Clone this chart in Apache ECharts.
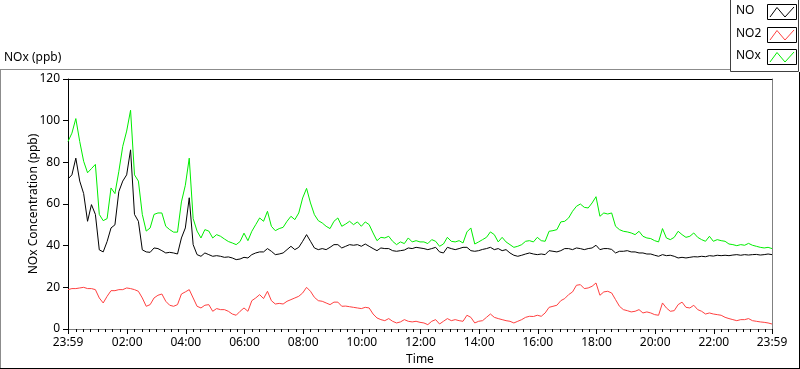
<!DOCTYPE html>
<html>
<head>
<meta charset="utf-8">
<script src="https://cdn.jsdelivr.net/npm/echarts@6/dist/echarts.min.js"></script>
<style>
  html, body { margin: 0; padding: 0; background: #ffffff; }
  #chart { width: 800px; height: 369px; }
</style>
</head>
<body>
<div id="chart"></div>
<script>
// Time axis: minutes since midnight; the record starts at 23:59 of the previous day
var START_MIN = -1;
var STEP_MIN = 8;
var END_MIN = 1439;

var majorTicks = [-1, 120, 240, 360, 480, 600, 720, 840, 960, 1080, 1200, 1320, 1439];
var minorTicks = [];
for (var m = 0; m < 1440; m += 15) { if (m % 120 !== 0) minorTicks.push(m); }
minorTicks.push(0);

var yTicks = [0, 20, 40, 60, 80, 100, 120];
var seriesNames = ['NO', 'NO2', 'NOx'];

var NOx = [
  90, 94, 101, 90, 80.5, 75, 77, 79, 55, 52, 53, 67.7, 65, 75.7, 87.7, 95, 105, 74, 71, 55,
  47, 48.5, 55, 55.7, 55.7, 49.3, 47.7, 46.5, 46.5, 61, 69, 82, 53, 47, 43.7, 47.7, 47, 43.7, 45.3, 44.5,
  43.2, 42, 41.3, 40.5, 42, 46,
  42.4, 46.9, 50.1, 53.3, 51.7, 56.5, 49.3, 47.2, 48.2, 48.8, 51.7, 54.1, 52.5, 55.7, 62.9, 67.5, 60.5, 54.9, 52, 50.9,
  49.3, 48.2, 51.7, 53.3, 49.3, 50.4, 51.7, 50.1, 51.4, 49.3, 51.4, 50.1, 46.1, 42.4, 44, 43.7, 44.5, 42.1, 40.5, 41.8,
  41, 43.7, 41.8, 42.4, 41.8,
  41.8, 41, 42.9, 42.1, 39.7, 40.8, 44, 42.1, 41.8, 42.4, 41.3, 46.6, 48.5, 40.8, 41.8, 42.9, 44, 46.6, 45.3, 41.8,
  44, 41.8, 40.5, 39.2, 39.7, 40.5, 42.1, 42.4, 41.8, 44, 42.4, 42.1, 46.9, 47.2, 47.7, 51.4, 51.7, 53.3, 56.5, 58.9,
  60, 58.4, 58.1, 60.5,
  63.5, 54.1, 55.7, 55.2, 55.7, 49.3, 47.7, 46.9, 46.6, 46.1, 45.3, 46.9, 44.5, 43.7, 43.4, 42.4, 41.8, 48.2, 43.7, 42.9,
  44, 46.9, 45.3, 44, 44.5, 46.1, 44, 42.9, 42.1, 44.5, 42.1, 42.9, 42.4, 42.1, 40.8, 40.5, 40, 40.5, 40.2, 41.1,
  40.2, 39.7, 39.2, 38.9, 39.2, 38.6
];

var NO = [
  72, 74, 82, 71, 65, 51.7, 59.7, 55, 38, 37, 42, 48.5, 50, 66, 71, 74, 86, 55, 51.7, 38,
  37, 36.8, 38.9, 38.6, 37.6, 36.5, 36.8, 36.5, 36, 43.7, 48.5, 63, 40.5, 35.7, 34.9, 36.5, 35.7, 34.9, 35.2, 34.9,
  34.4, 34.6, 34.1, 33.3, 33.6, 34.4,
  34.1, 35.7, 36.5, 37, 37, 38.6, 37.3, 35.7, 36, 36.5, 38.1, 39.7, 38.1, 39.2, 42.1, 45.3, 42.1, 38.9, 38.1, 38.6,
  38.1, 39.2, 40.5, 40.5, 38.9, 39.7, 40.5, 40.2, 40.5, 39.7, 40.8, 39.7, 38.6, 37.6, 38.9, 38.6, 38.6, 37.6, 37.3, 37.6,
  37.9, 38.9, 38.6, 39.2, 38.9,
  38.6, 38.1, 38.6, 39.2, 37, 36.5, 39.2, 38.6, 38.1, 38.6, 39.2, 39.2, 37.6, 37.3, 37.6, 38.2, 38.6, 39.2, 38.1, 38.6,
  37.6, 38.1, 36.5, 35.4, 34.9, 35.4, 36, 36.5, 36, 35.7, 36, 35.7, 37.6, 37.3, 37, 37.6, 38.6, 38.6, 38.1, 38.9,
  38.6, 38.1, 38.6, 38.9,
  40.2, 38.1, 38.6, 38.6, 38.2, 36.5, 37.3, 37.3, 37.6, 37, 37, 36.5, 36.5, 36, 36, 35.4, 34.9, 35.7, 35.2, 35.4,
  34.9, 34.1, 34.4, 34.1, 34.4, 34.7, 34.6, 34.9, 34.7, 35.2, 35, 35.4, 35.2, 35.4, 35.2, 35.5, 35.7, 35.4, 35.7, 35.5,
  35.7, 35.8, 35.5, 35.7, 36, 35.7
];

var NO2 = [
  18.9, 19.4, 19.4, 19.7, 20, 19.4, 19.4, 18.9, 14.9, 12.5, 15.7, 18.4, 18.4, 18.9, 18.9, 19.7, 19.4, 18.9, 18.1, 14.9,
  10.9, 11.7, 14.9, 16.2, 16.8, 13.3, 11.4, 10.9, 11.7, 16.8, 17.8, 18.9, 14.9, 10.9, 10.1, 11.4, 11.7, 8.5, 9.8, 9.3,
  9.3, 8.5, 7.2, 6.6, 8.5, 10.1,
  8.5, 13.6, 14.9, 16.5, 14.6, 18.1, 13.6, 12, 12.3, 12, 13.3, 14.1, 14.9, 15.7, 17.3, 20, 18.1, 15.2, 13.6, 13.3,
  12.5, 11.7, 12.9, 12.9, 10.9, 11, 10.7, 10.4, 10.1, 9.8, 10.4, 10.1, 7.2, 5.3, 4.5, 4, 5, 3.7, 2.9, 3.4,
  4.5, 3.7, 3.4, 3.7, 3.2,
  2.9, 2.1, 3.7, 4.5, 2.4, 3.7, 5, 4, 4.5, 4, 3.7, 6.6, 5.6, 2.9, 3.7, 4, 5.6, 7.2, 5.6, 5,
  4.5, 4, 3.7, 2.9, 3.7, 4.5, 5.6, 6.1, 6, 6.6, 6.1, 7.7, 10.4, 10.9, 11.4, 13.6, 14.6, 16.5, 17.8, 21,
  21.3, 19.4, 19.7, 20.5,
  22.1, 16.2, 17.8, 18.1, 17.3, 14.1, 10.9, 9.3, 8.8, 8.2, 8.5, 9.3, 7.7, 8.2, 7.7, 6.9, 6.6, 12.5, 10.1, 8.5,
  8.8, 11.7, 12.9, 10.4, 10.1, 11.4, 9.3, 8.5, 7.2, 7.7, 7.2, 6.9, 6.6, 5.6, 5, 4.5, 4, 4.5, 4.5, 5,
  4, 3.7, 3.4, 3.2, 2.9, 2.4
];

function pairs(vals) {
  return vals.map(function (v, i) { return [START_MIN + i * STEP_MIN, v]; });
}
function fmtTime(v) {
  if (v < 0 || v >= 1439) return '23:59';
  var h = Math.floor(v / 60), mm = v % 60;
  return (h < 10 ? '0' : '') + h + ':' + (mm < 10 ? '0' : '') + mm;
}

var FONT = 'Noto Sans';
var chart = echarts.init(document.getElementById('chart'), null, { renderer: 'canvas' });

function legendEntry(name, color, y) {
  var bx = 767, by = y;
  return [
    { type: 'text', left: 736, top: by + 1, style: { text: name, fill: '#000', font: '12px "' + FONT + '"' } },
    { type: 'rect', shape: { x: bx + 0.5, y: by + 0.5, width: 29, height: 15 }, style: { fill: '#fff', stroke: '#000', lineWidth: 1 } },
    { type: 'polyline', shape: { points: [[bx + 3, by + 13], [bx + 10, by + 3.5], [bx + 18, by + 13], [bx + 27, by + 3]] }, style: { stroke: color, lineWidth: 1, fill: null } }
  ];
}

var graphics = [
  // outer panel frame
  { type: 'line', shape: { x1: 0, y1: 69.5, x2: 730, y2: 69.5 }, style: { stroke: '#8c8c8c', lineWidth: 1 } },
  { type: 'line', shape: { x1: 0.5, y1: 69, x2: 0.5, y2: 368 }, style: { stroke: '#8c8c8c', lineWidth: 1 } },
  { type: 'line', shape: { x1: 0, y1: 368.5, x2: 800, y2: 368.5 }, style: { stroke: '#000', lineWidth: 1 } },
  { type: 'line', shape: { x1: 799.5, y1: 72, x2: 799.5, y2: 369 }, style: { stroke: '#000', lineWidth: 1 } },
  // graph label
  { type: 'text', left: 4, top: 52, style: { text: 'NOx (ppb)', fill: '#000', font: '12px "' + FONT + '"' } },
  // legend box
  { type: 'rect', shape: { x: 730.5, y: -1, width: 68, height: 72.5 }, style: { fill: '#fff', stroke: '#404040', lineWidth: 1 } }
].concat(legendEntry(seriesNames[0], '#000000', 4))
 .concat(legendEntry(seriesNames[1], '#ff4040', 27))
 .concat(legendEntry(seriesNames[2], '#00ee00', 49));

var option = {
  backgroundColor: '#ffffff',
  animation: false,
  textStyle: { fontFamily: FONT },
  grid: { left: 68, top: 79, width: 704, height: 250, containLabel: false, outerBoundsMode: 'none' },
  xAxis: [
    {
      type: 'value', min: START_MIN, max: END_MIN, position: 'bottom',
      axisLine: { show: true, onZero: false, lineStyle: { color: '#808080', width: 1 } },
      axisTick: { show: true, customValues: majorTicks, length: 5, inside: false, lineStyle: { color: '#000' } },
      axisLabel: { show: true, customValues: majorTicks, formatter: fmtTime, margin: 8, color: '#000', fontSize: 12, fontFamily: FONT },
      splitLine: { show: false },
      name: 'Time', nameLocation: 'middle', nameGap: 25, nameMoveOverlap: false,
      nameTextStyle: { color: '#000', fontSize: 12, fontFamily: FONT }
    },
    {
      type: 'value', min: START_MIN, max: END_MIN, position: 'bottom',
      axisLine: { show: false, onZero: false },
      axisTick: { show: true, customValues: minorTicks, length: 3, lineStyle: { color: '#000' } },
      axisLabel: { show: false },
      splitLine: { show: false }
    },
    {
      type: 'value', min: START_MIN, max: END_MIN, position: 'top',
      axisLine: { show: true, onZero: false, lineStyle: { color: '#000', width: 1 } },
      axisTick: { show: false }, axisLabel: { show: false }, splitLine: { show: false }
    }
  ],
  yAxis: [
    {
      type: 'value', min: yTicks[0], max: yTicks[yTicks.length - 1], interval: 20, position: 'left',
      axisLine: { show: true, onZero: false, lineStyle: { color: '#000', width: 1 } },
      axisTick: { show: true, length: 5, lineStyle: { color: '#000' } },
      axisLabel: { show: true, margin: 8, color: '#000', fontSize: 12, fontFamily: FONT },
      splitLine: { show: false },
      name: 'NOx Concentration (ppb)', nameLocation: 'middle', nameGap: 28, nameRotate: 90, nameMoveOverlap: false,
      nameTextStyle: { color: '#000', fontSize: 12, fontFamily: FONT }
    },
    {
      type: 'value', min: 0, max: 120, position: 'right',
      axisLine: { show: true, onZero: false, lineStyle: { color: '#808080', width: 1 } },
      axisTick: { show: false }, axisLabel: { show: false }, splitLine: { show: false }
    }
  ],
  series: [
    { name: seriesNames[2], type: 'line', xAxisIndex: 0, yAxisIndex: 0, data: pairs(NOx), showSymbol: false, symbol: 'none',
      lineStyle: { color: '#00ee00', width: 1 }, itemStyle: { color: '#00ee00' } },
    { name: seriesNames[0], type: 'line', xAxisIndex: 0, yAxisIndex: 0, data: pairs(NO), showSymbol: false, symbol: 'none',
      lineStyle: { color: '#000000', width: 1 }, itemStyle: { color: '#000000' } },
    { name: seriesNames[1], type: 'line', xAxisIndex: 0, yAxisIndex: 0, data: pairs(NO2), showSymbol: false, symbol: 'none',
      lineStyle: { color: '#ff4040', width: 1 }, itemStyle: { color: '#ff4040' } }
  ],
  graphic: graphics
};
chart.setOption(option);
</script>
</body>
</html>
